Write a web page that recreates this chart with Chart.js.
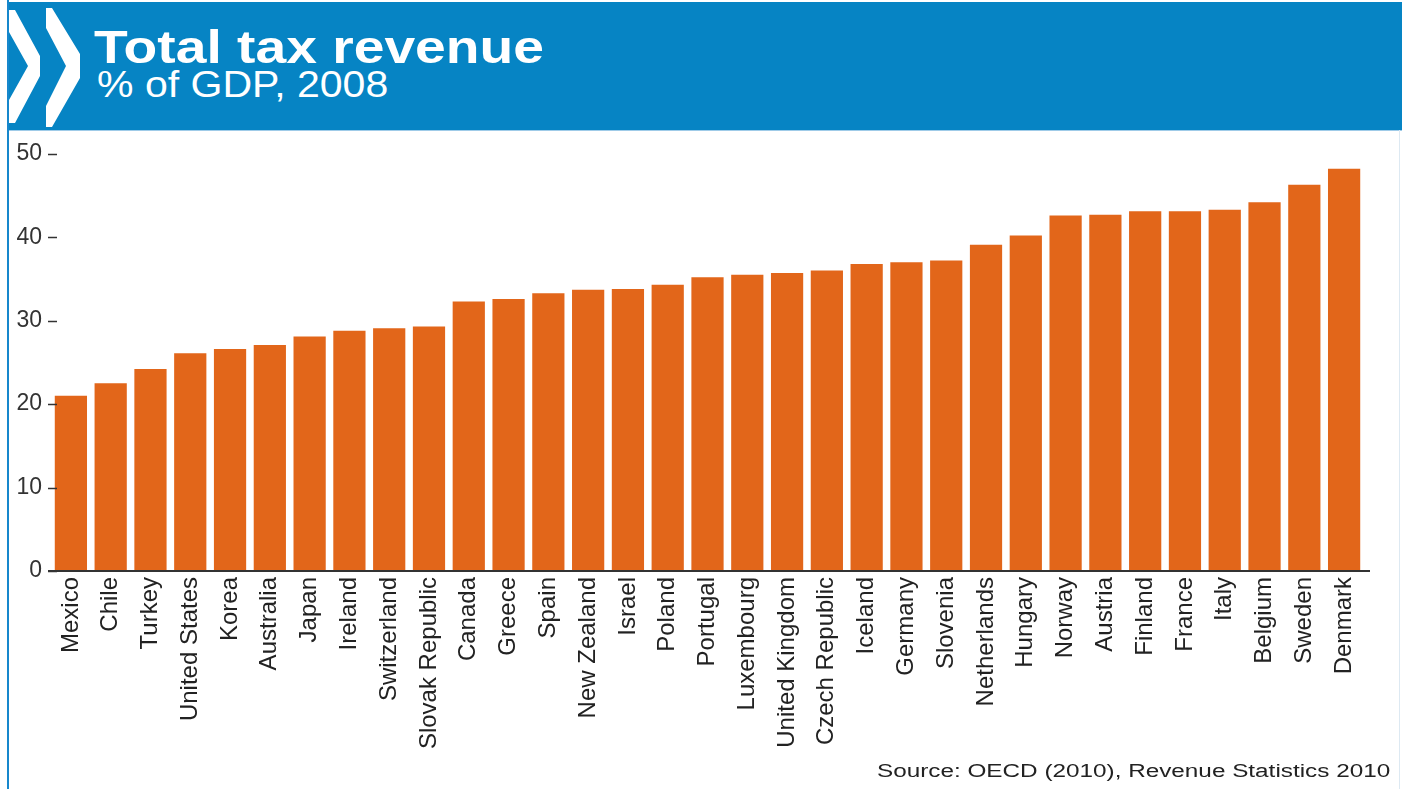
<html>
<head>
<meta charset="utf-8">
<style>
    body { margin: 0; background: #fff; font-family: "Liberation Sans", Arial, sans-serif; }
    .page { position: relative; width: 1402px; height: 789px; overflow: hidden; }
    .leftline { position: absolute; left: 7px; top: 0; width: 2px; height: 789px; background: #1787cc; }
    .rightline { position: absolute; left: 1399px; top: 130px; width: 1px; height: 659px; background: #dde9f2; }
    .header { position: absolute; left: 8px; top: 2px; width: 1394px; height: 128px; background: #0684c4; border-bottom: 1px solid #9fcbe8; }
    .title { position: absolute; left: 94px; top: 24px; font-size: 46px; line-height: 46px; font-weight: bold; color: #fff; transform: scaleX(1.2); transform-origin: left; white-space: nowrap; }
    .subtitle { position: absolute; left: 97px; top: 67px; font-size: 36px; line-height: 36px; color: #fff; transform: scaleX(1.14); transform-origin: left; white-space: nowrap; }
    .logo { position: absolute; left: 0; top: 0; }
    .chartbox { position: absolute; left: 9px; top: 131px; width: 1391px; height: 658px; }
    .source { position: absolute; right: 12px; top: 762px; font-size: 18px; line-height: 18px; color: #222; transform: scaleX(1.35); transform-origin: right; white-space: nowrap; }
</style>
</head>
<body>
<div class="page">
    <div class="header"></div>
    <svg class="logo" width="100" height="132">
        <polygon points="9,10 15,10 40,56 40,76 15,123 9,123 9,100 28,66 9,32" fill="#fff"/>
        <polygon points="46,8 52,8 80,54 80,78 52,127 46,127 46,106 66,66 46,28" fill="#fff"/>
    </svg>
    <div class="title">Total tax revenue</div>
    <div class="subtitle">% of GDP, 2008</div>
    <div class="leftline"></div>
    <div class="rightline"></div>
    <div class="chartbox">
        <canvas id="barChart"></canvas>
    </div>
    <div class="source">Source: OECD (2010), Revenue Statistics 2010</div>
</div>
<script src="https://cdn.jsdelivr.net/npm/chart.js"></script>

<script>
    const countries = ["Mexico", "Chile", "Turkey", "United States", "Korea", "Australia", "Japan", "Ireland",
        "Switzerland", "Slovak Republic", "Canada", "Greece", "Spain", "New Zealand", "Israel", "Poland",
        "Portugal", "Luxembourg", "United Kingdom", "Czech Republic", "Iceland", "Germany", "Slovenia",
        "Netherlands", "Hungary", "Norway", "Austria", "Finland", "France", "Italy", "Belgium", "Sweden", "Denmark"]
    const taxRevenue = [21.0, 22.5, 24.2, 26.1, 26.6, 27.1, 28.1, 28.8, 29.1, 29.3, 32.3, 32.6, 33.3, 33.7,
        33.8, 34.3, 35.2, 35.5, 35.7, 36.0, 36.8, 37.0, 37.2, 39.1, 40.2, 42.6, 42.7, 43.1, 43.1, 43.3,
        44.2, 46.3, 48.2]
    const yTicks = [0, 10, 20, 30, 40, 50]

    // small dashes at the y ticks and the base line, like the original
    const axisMarks = {
        id: 'axisMarks',
        afterDatasetsDraw(chart) {
            const ctx = chart.ctx
            const y = chart.scales.y
            const area = chart.chartArea
            ctx.save()
            ctx.strokeStyle = '#333'
            ctx.lineWidth = 1.5
            yTicks.forEach(v => {
                const py = Math.round(y.getPixelForValue(v)) + 0.5
                ctx.beginPath()
                ctx.moveTo(area.left - 3, py)
                ctx.lineTo(area.left + 6, py)
                ctx.stroke()
            })
            ctx.lineWidth = 2
            const py0 = y.getPixelForValue(0)
            ctx.beginPath()
            ctx.moveTo(area.left - 3, py0)
            ctx.lineTo(area.right + 6, py0)
            ctx.stroke()
            ctx.restore()
        }
    }

    const data = {
        labels: countries,
        datasets: [{
            label: "Total tax revenue",
            data: taxRevenue,
            backgroundColor: '#e2661a',
            borderWidth: 0,
            barPercentage: 0.81,
            categoryPercentage: 1.0
        }]
    }

    const config = {
        type: 'bar',
        data: data,
        options: {
            responsive: true,
            maintainAspectRatio: false,
            animation: false,
            layout: { padding: { top: 17, right: 36, left: 0, bottom: 0 } },
            plugins: {
                legend: { display: false },
                tooltip: { enabled: false }
            },
            scales: {
                x: {
                    grid: { display: false },
                    border: { display: false },
                    ticks: {
                        autoSkip: false,
                        minRotation: 90,
                        maxRotation: 90,
                        padding: -2,
                        color: '#222',
                        font: { family: 'Liberation Sans', size: 24 }
                    },
                    afterFit(scale) { scale.height = 218 }
                },
                y: {
                    min: 0,
                    max: 50,
                    z: 1,
                    border: { display: false },
                    grid: {
                        drawTicks: false,
                        lineWidth: 1.5,
                        color: ctx => ctx.tick && ctx.tick.value === 0 ? 'rgba(0,0,0,0)' : 'rgba(255,255,255,0.35)'
                    },
                    afterBuildTicks(scale) { scale.ticks = yTicks.map(v => ({ value: v })) },
                    ticks: {
                        padding: 9,
                        color: '#333',
                        font: { family: 'Liberation Sans', size: 23 }
                    },
                    afterFit(scale) { scale.width = 42 }
                }
            }
        },
        plugins: [axisMarks]
    }

    const barChart = new Chart(document.getElementById('barChart').getContext('2d'), config)
</script>
</body>
</html>
